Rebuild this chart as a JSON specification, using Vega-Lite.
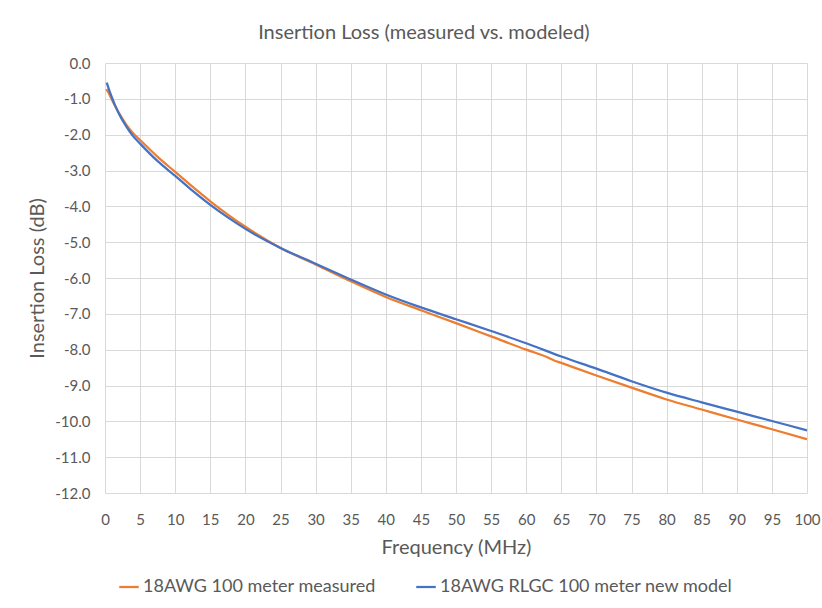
{
  "$schema": "https://vega.github.io/schema/vega-lite/v6.json",
  "width": 702,
  "height": 430,
  "autosize": {"type": "none"},
  "padding": {"left": 105, "top": 63, "right": 15, "bottom": 115},
  "background": "white",
  "title": {
    "text": "Insertion Loss (measured vs. modeled)",
    "font": "Lato",
    "fontSize": 20,
    "fontWeight": "normal",
    "color": "#595959",
    "anchor": "middle",
    "frame": "bounds",
    "offset": 13
  },
  "data": {
    "values": [
      {"f": 0.2, "series": "18AWG 100 meter measured", "il": -0.73},
      {"f": 0.5, "series": "18AWG 100 meter measured", "il": -0.83},
      {"f": 1, "series": "18AWG 100 meter measured", "il": -1.03},
      {"f": 1.5, "series": "18AWG 100 meter measured", "il": -1.22},
      {"f": 2, "series": "18AWG 100 meter measured", "il": -1.40},
      {"f": 3, "series": "18AWG 100 meter measured", "il": -1.71},
      {"f": 4, "series": "18AWG 100 meter measured", "il": -1.96},
      {"f": 5, "series": "18AWG 100 meter measured", "il": -2.15},
      {"f": 7.5, "series": "18AWG 100 meter measured", "il": -2.62},
      {"f": 10, "series": "18AWG 100 meter measured", "il": -3.04},
      {"f": 12.5, "series": "18AWG 100 meter measured", "il": -3.46},
      {"f": 15, "series": "18AWG 100 meter measured", "il": -3.86},
      {"f": 17.5, "series": "18AWG 100 meter measured", "il": -4.23},
      {"f": 20, "series": "18AWG 100 meter measured", "il": -4.57},
      {"f": 25, "series": "18AWG 100 meter measured", "il": -5.16},
      {"f": 30, "series": "18AWG 100 meter measured", "il": -5.62},
      {"f": 35, "series": "18AWG 100 meter measured", "il": -6.09},
      {"f": 40, "series": "18AWG 100 meter measured", "il": -6.53},
      {"f": 45, "series": "18AWG 100 meter measured", "il": -6.90},
      {"f": 50, "series": "18AWG 100 meter measured", "il": -7.26},
      {"f": 55, "series": "18AWG 100 meter measured", "il": -7.63},
      {"f": 60, "series": "18AWG 100 meter measured", "il": -8.00},
      {"f": 63, "series": "18AWG 100 meter measured", "il": -8.21},
      {"f": 64, "series": "18AWG 100 meter measured", "il": -8.30},
      {"f": 65, "series": "18AWG 100 meter measured", "il": -8.37},
      {"f": 70, "series": "18AWG 100 meter measured", "il": -8.72},
      {"f": 75, "series": "18AWG 100 meter measured", "il": -9.06},
      {"f": 80, "series": "18AWG 100 meter measured", "il": -9.39},
      {"f": 85, "series": "18AWG 100 meter measured", "il": -9.67},
      {"f": 90, "series": "18AWG 100 meter measured", "il": -9.95},
      {"f": 95, "series": "18AWG 100 meter measured", "il": -10.22},
      {"f": 100, "series": "18AWG 100 meter measured", "il": -10.50},
      {"f": 0.25, "series": "18AWG RLGC 100 meter new model", "il": -0.55},
      {"f": 0.5, "series": "18AWG RLGC 100 meter new model", "il": -0.70},
      {"f": 1, "series": "18AWG RLGC 100 meter new model", "il": -0.97},
      {"f": 1.5, "series": "18AWG RLGC 100 meter new model", "il": -1.21},
      {"f": 2, "series": "18AWG RLGC 100 meter new model", "il": -1.42},
      {"f": 3, "series": "18AWG RLGC 100 meter new model", "il": -1.76},
      {"f": 4, "series": "18AWG RLGC 100 meter new model", "il": -2.04},
      {"f": 5, "series": "18AWG RLGC 100 meter new model", "il": -2.25},
      {"f": 7.5, "series": "18AWG RLGC 100 meter new model", "il": -2.74},
      {"f": 10, "series": "18AWG RLGC 100 meter new model", "il": -3.15},
      {"f": 12.5, "series": "18AWG RLGC 100 meter new model", "il": -3.57},
      {"f": 15, "series": "18AWG RLGC 100 meter new model", "il": -3.96},
      {"f": 17.5, "series": "18AWG RLGC 100 meter new model", "il": -4.31},
      {"f": 20, "series": "18AWG RLGC 100 meter new model", "il": -4.63},
      {"f": 25, "series": "18AWG RLGC 100 meter new model", "il": -5.16},
      {"f": 30, "series": "18AWG RLGC 100 meter new model", "il": -5.60},
      {"f": 35, "series": "18AWG RLGC 100 meter new model", "il": -6.04},
      {"f": 40, "series": "18AWG RLGC 100 meter new model", "il": -6.46},
      {"f": 45, "series": "18AWG RLGC 100 meter new model", "il": -6.82},
      {"f": 50, "series": "18AWG RLGC 100 meter new model", "il": -7.15},
      {"f": 55, "series": "18AWG RLGC 100 meter new model", "il": -7.48},
      {"f": 60, "series": "18AWG RLGC 100 meter new model", "il": -7.82},
      {"f": 65, "series": "18AWG RLGC 100 meter new model", "il": -8.19},
      {"f": 70, "series": "18AWG RLGC 100 meter new model", "il": -8.53},
      {"f": 75, "series": "18AWG RLGC 100 meter new model", "il": -8.88},
      {"f": 80, "series": "18AWG RLGC 100 meter new model", "il": -9.20},
      {"f": 85, "series": "18AWG RLGC 100 meter new model", "il": -9.47},
      {"f": 90, "series": "18AWG RLGC 100 meter new model", "il": -9.73},
      {"f": 95, "series": "18AWG RLGC 100 meter new model", "il": -9.99},
      {"f": 100, "series": "18AWG RLGC 100 meter new model", "il": -10.25}
    ]
  },
  "mark": {"type": "line", "strokeWidth": 2.25, "interpolate": "monotone"},
  "encoding": {
    "x": {
      "field": "f",
      "type": "quantitative",
      "scale": {"domain": [0, 100], "nice": false, "zero": false},
      "axis": {
        "title": "Frequency (MHz)",
        "values": [0,5,10,15,20,25,30,35,40,45,50,55,60,65,70,75,80,85,90,95,100],
        "grid": true,
        "gridColor": "#d9d9d9",
        "gridWidth": 1,
        "domain": false,
        "ticks": false,
        "labelFont": "Lato",
        "labelFontSize": 15,
        "labelColor": "#595959",
        "labelPadding": 19,
        "labelFlush": false,
        "titleFont": "Lato",
        "titleFontSize": 20,
        "titleFontWeight": "normal",
        "titleColor": "#595959",
        "titlePadding": 10
      }
    },
    "y": {
      "field": "il",
      "type": "quantitative",
      "scale": {"domain": [-12, 0], "nice": false, "zero": false},
      "axis": {
        "title": "Insertion Loss (dB)",
        "values": [0,-1,-2,-3,-4,-5,-6,-7,-8,-9,-10,-11,-12],
        "labelExpr": "replace(format(datum.value, '.1f'), '\u2212', '-')",
        "grid": true,
        "gridColor": "#d9d9d9",
        "gridWidth": 1,
        "domain": false,
        "ticks": false,
        "labelFont": "Lato",
        "labelFontSize": 15,
        "labelColor": "#595959",
        "labelPadding": 15,
        "titleFont": "Lato",
        "titleFontSize": 20,
        "titleFontWeight": "normal",
        "titleColor": "#595959",
        "titlePadding": 7
      }
    },
    "color": {
      "field": "series",
      "type": "nominal",
      "scale": {
        "domain": ["18AWG 100 meter measured", "18AWG RLGC 100 meter new model"],
        "range": ["#ED7D31", "#4472C4"]
      },
      "legend": {
        "title": null,
        "orient": "none",
        "direction": "horizontal",
        "legendX": 13,
        "legendY": 513,
        "symbolType": "stroke",
        "symbolStrokeWidth": 2.25,
        "symbolSize": 380,
        "labelFont": "Lato",
        "labelFontSize": 18,
        "labelLimit": 400,
        "labelColor": "#595959",
        "labelOffset": 3,
        "columnPadding": 35
      }
    }
  },
  "config": {"view": {"stroke": null}}
}
